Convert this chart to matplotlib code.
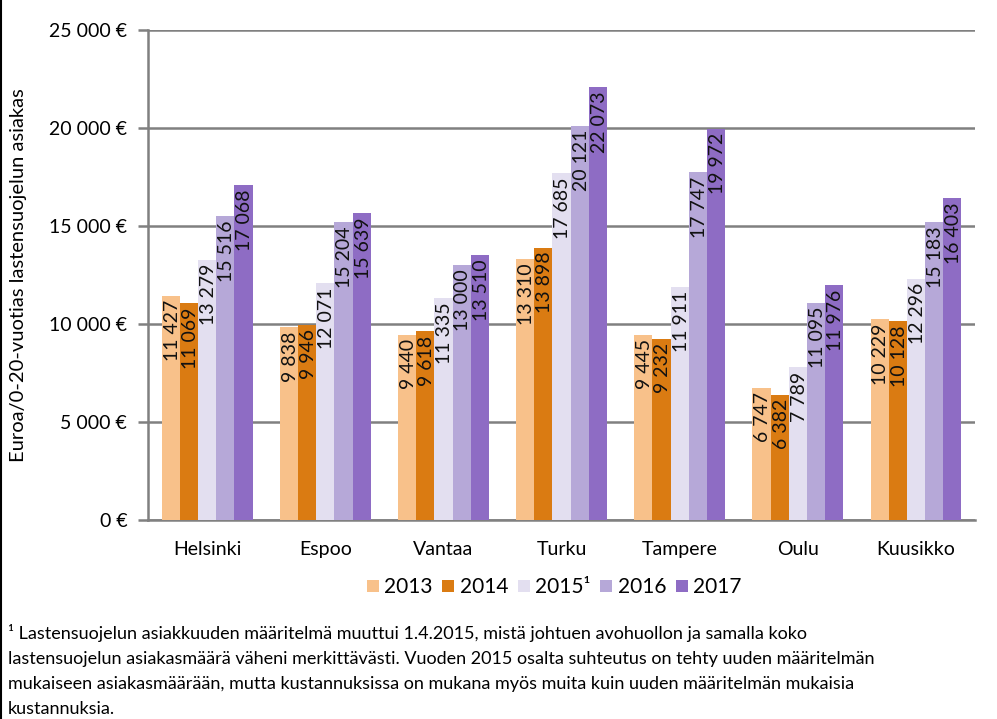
import matplotlib
matplotlib.use("Agg")
import matplotlib.pyplot as plt
from matplotlib.lines import Line2D
import numpy as np

cities = ["Helsinki", "Espoo", "Vantaa", "Turku", "Tampere", "Oulu", "Kuusikko"]
years = ["2013", "2014", "2015¹", "2016", "2017"]
v2013 = [11427, 9838, 9440, 13310, 9445, 6747, 10229]
v2014 = [11069, 9946, 9618, 13898, 9232, 6382, 10128]
v2015 = [13279, 12071, 11335, 17685, 11911, 7789, 12296]
v2016 = [15516, 15204, 13000, 20121, 17747, 11095, 15183]
v2017 = [17068, 15639, 13510, 22073, 19972, 11976, 16403]
series = [v2013, v2014, v2015, v2016, v2017]
colors = ["#F8C18A", "#DA7B12", "#E3DFF0", "#B6A8D8", "#8E6CC4"]
yticks = [0, 5000, 10000, 15000, 20000, 25000]
ylabel = "Euroa/0-20-vuotias lastensuojelun asiakas"
footnote = ["¹ Lastensuojelun asiakkuuden määritelmä muuttui 1.4.2015, mistä johtuen avohuollon ja samalla koko",
            "lastensuojelun asiakasmäärä väheni merkittävästi. Vuoden 2015 osalta suhteutus on tehty uuden määritelmän",
            "mukaiseen asiakasmäärään, mutta kustannuksissa on mukana myös muita kuin uuden määritelmän mukaisia",
            "kustannuksia."]

plt.rcParams['font.family'] = ['Lato', 'DejaVu Sans']

def fmt(v):
    return f"{v:,}".replace(",", " ")

fig = plt.figure(figsize=(9.97, 7.19), dpi=100)
ax = fig.add_axes([0.1485, 0.2768, 0.978 - 0.1485, 0.9583 - 0.2768])

n = len(series)
bw = 0.154
x = np.arange(len(cities))
for i, (vals, c) in enumerate(zip(series, colors)):
    pos = x + (i - (n - 1) / 2) * bw
    ax.bar(pos, vals, width=bw, color=c, zorder=3, label=years[i])
    for p, v in zip(pos, vals):
        ax.annotate(fmt(v), (p, v), xytext=(1, -3), textcoords="offset points",
                    rotation=90, ha="center", va="top", fontsize=14, color="#111111", zorder=4)

ax.set_xlim(-0.5, len(cities) - 0.5)
ax.set_ylim(0, 25000)
ax.set_yticks(yticks)
ax.set_yticklabels([fmt(t) + " €" for t in yticks], fontsize=14)
ax.set_xticks(x)
ax.set_xticklabels(cities, fontsize=14)
ax.yaxis.grid(True, color="#808080", linewidth=1.8, zorder=0)
ax.tick_params(axis="y", length=7, width=1.8, color="#808080", pad=8)
ax.tick_params(axis="x", length=0, pad=15)
for s in ["top", "right"]:
    ax.spines[s].set_visible(False)
ax.spines["left"].set_color("#808080")
ax.spines["left"].set_linewidth(1.8)
ax.spines["bottom"].set_color("#808080")
ax.spines["bottom"].set_linewidth(1.8)
ax.set_ylabel(ylabel, fontsize=14.5)
ax.yaxis.set_label_coords(-0.1465, 0.5)

handles = [Line2D([], [], marker="s", linestyle="none", markersize=9, color=c, markeredgewidth=0) for c in colors]
fig.legend(handles, years, loc="center", bbox_to_anchor=(553 / 997, 1 - 587 / 719), ncol=5,
           frameon=False, fontsize=15, handletextpad=0.15, columnspacing=0.35, handlelength=0.8)

ys = [633, 659, 684, 709]
for line, yy in zip(footnote, ys):
    fig.text(8 / 997, 1 - yy / 719, line, fontsize=13, ha="left", va="center")

fig.add_artist(Line2D([0.001, 0.001], [0, 1], color="black", linewidth=1.5, transform=fig.transFigure))

fig.savefig("out.png", dpi=100)
